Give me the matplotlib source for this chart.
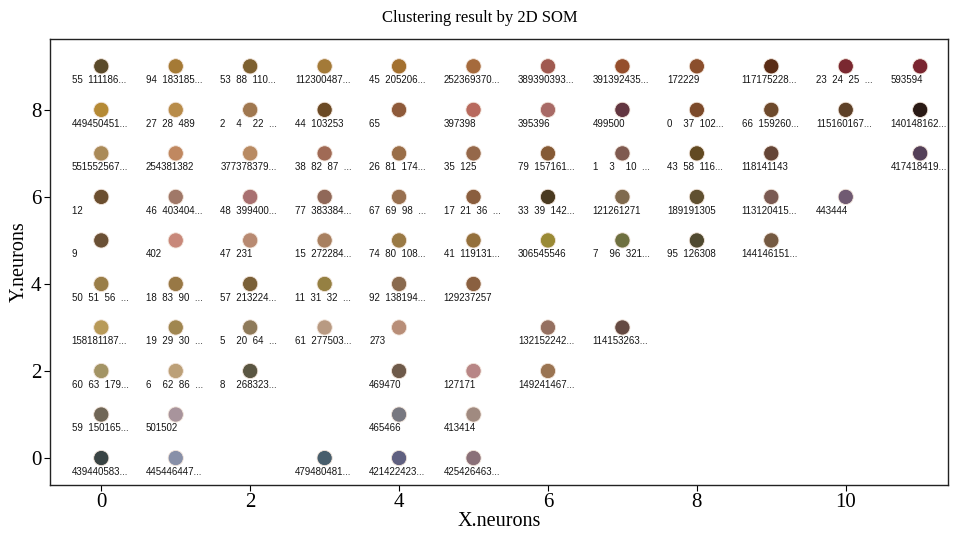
import matplotlib.pyplot as plt

# SOM grid coordinates of every occupied neuron
x_neurons = [0, 1, 2, 3, 4, 5, 6, 7, 8, 9, 10, 11,
             0, 1, 2, 3, 4, 5, 6, 7, 8, 9, 10, 11,
             0, 1, 2, 3, 4, 5, 6, 7, 8, 9, 11,
             0, 1, 2, 3, 4, 5, 6, 7, 8, 9, 10,
             0, 1, 2, 3, 4, 5, 6, 7, 8, 9,
             0, 1, 2, 3, 4, 5,
             0, 1, 2, 3, 4, 6, 7,
             0, 1, 2, 4, 5, 6,
             0, 1, 4, 5,
             0, 1, 3, 4, 5]
y_neurons = [9] * 12 + [8] * 12 + [7] * 11 + [6] * 11 + [5] * 10 + \
            [4] * 6 + [3] * 7 + [2] * 6 + [1] * 4 + [0] * 5

# first members of each neuron, and whether the neuron holds more
members = [
    [55, 111, 186], [94, 183, 185], [53, 88, 110], [112, 300, 487], [45, 205, 206], [252, 369, 370],
    [389, 390, 393], [391, 392, 435], [172, 229], [117, 175, 228], [23, 24, 25], [593, 594],
    [449, 450, 451], [27, 28, 489], [2, 4, 22], [44, 103, 253], [65], [397, 398],
    [395, 396], [499, 500], [0, 37, 102], [66, 159, 260], [115, 160, 167], [140, 148, 162],
    [551, 552, 567], [254, 381, 382], [377, 378, 379], [38, 82, 87], [26, 81, 174], [35, 125],
    [79, 157, 161], [1, 3, 10], [43, 58, 116], [118, 141, 143], [417, 418, 419],
    [12], [46, 403, 404], [48, 399, 400], [77, 383, 384], [67, 69, 98], [17, 21, 36],
    [33, 39, 142], [121, 261, 271], [189, 191, 305], [113, 120, 415], [443, 444],
    [9], [402], [47, 231], [15, 272, 284], [74, 80, 108], [41, 119, 131],
    [306, 545, 546], [7, 96, 321], [95, 126, 308], [144, 146, 151],
    [50, 51, 56], [18, 83, 90], [57, 213, 224], [11, 31, 32], [92, 138, 194], [129, 237, 257],
    [158, 181, 187], [19, 29, 30], [5, 20, 64], [61, 277, 503], [273], [132, 152, 242], [114, 153, 263],
    [60, 63, 179], [6, 62, 86], [8, 268, 323], [469, 470], [127, 171], [149, 241, 467],
    [59, 150, 165], [501, 502], [465, 466], [413, 414],
    [439, 440, 583], [445, 446, 447], [479, 480, 481], [421, 422, 423], [425, 426, 463],
]
more = [1, 1, 1, 1, 1, 1, 1, 1, 0, 1, 1, 0,
        1, 0, 1, 0, 0, 0, 0, 0, 1, 1, 1, 1,
        1, 0, 1, 1, 1, 0, 1, 1, 1, 0, 1,
        0, 1, 1, 1, 1, 1, 1, 0, 0, 1, 0,
        0, 0, 0, 1, 1, 1, 0, 1, 0, 1,
        1, 1, 1, 1, 1, 0,
        1, 1, 1, 1, 0, 1, 1,
        1, 1, 1, 0, 0, 1,
        1, 0, 0, 0,
        1, 1, 1, 1, 1]

# mean colour of the samples mapped to each neuron
colors = [
    '#5a4a2a', '#a57a35', '#7d6030', '#a37a38', '#a3702f', '#a56a3c',
    '#a05a50', '#954e2c', '#8b4f2c', '#5a2c15', '#7a2830', '#7a2530',
    '#b58a35', '#b88c4a', '#a07850', '#6b4a25', '#8e5a3a', '#b86a5e',
    '#a86a66', '#633641', '#7c4a2a', '#6e4a2c', '#5e4128', '#2a1a15',
    '#aa8a58', '#c08860', '#b88a62', '#a06a55', '#9a6e48', '#95684a',
    '#855a35', '#7f5a50', '#624a22', '#654536', '#544058',
    '#6b4e2f', '#a07868', '#a87070', '#906858', '#987050', '#8a5e3e',
    '#4a3a20', '#806a4e', '#605030', '#7a5a52', '#705a72',
    '#6a5035', '#c8887a', '#b88a72', '#a88060', '#9a7a45', '#94703c',
    '#9a8a35', '#6e7040', '#504a30', '#755a42',
    '#9a7e48', '#987845', '#7a6038', '#958042', '#8a6a4e', '#8a6040',
    '#b89a58', '#a08650', '#8e7a5a', '#b89a82', '#b88e78', '#957060', '#654a42',
    '#a39465', '#bca078', '#5a5642', '#6e5a4a', '#b88686', '#9a7452',
    '#706656', '#a8949c', '#787880', '#a08a80',
    '#3a4444', '#8890a8', '#485e6c', '#606080', '#8a7078',
]

serif = 'Liberation Serif'


def member_label(ids, has_more):
    # each id left aligned in a three-digit field
    parts = [str(i) + '  ' * (3 - len(str(i))) for i in ids]
    return ''.join(parts) + ('...' if has_more else '')


fig = plt.figure(figsize=(9.6, 5.33), dpi=100)
ax = fig.add_axes([0.052, 0.09, 0.936, 0.837])

ax.scatter(x_neurons, y_neurons, c=colors, s=120, edgecolors='#f3e6dc',
           linewidths=0.6, zorder=3)

for x, y, ids, m in zip(x_neurons, y_neurons, members, more):
    ax.text(x - 0.40, y - 0.32, member_label(ids, m), ha='left', va='center',
            fontsize=7, fontfamily='Liberation Sans', color='#151515')

ax.set_xlim(-0.69, 11.38)
ax.set_ylim(-0.62, 9.63)
ax.set_xticks([0, 2, 4, 6, 8, 10])
ax.set_yticks([0, 2, 4, 6, 8])

fig.suptitle('Clustering result by 2D SOM', x=0.5, y=0.966, va='center',
             fontsize=12, fontfamily=serif)
ax.set_xlabel('X.neurons', fontsize=14.5, fontfamily=serif, labelpad=0)
ax.set_ylabel('Y.neurons', fontsize=14.5, fontfamily=serif, labelpad=2)
for lab in ax.get_xticklabels() + ax.get_yticklabels():
    lab.set_fontfamily(serif)
    lab.set_fontsize(15)
ax.tick_params(direction='out', length=4, width=0.8, pad=2)

for sp in ax.spines.values():
    sp.set_color('#222222')
    sp.set_linewidth(1.0)

fig.savefig('out.png', dpi=100)
